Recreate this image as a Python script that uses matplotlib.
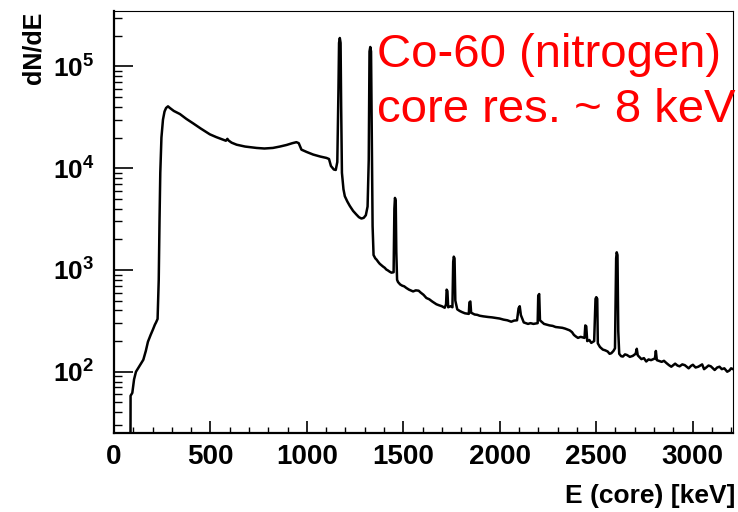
import math
import matplotlib
matplotlib.use("Agg")
import matplotlib.pyplot as plt
from matplotlib.ticker import FixedLocator, FuncFormatter, LogLocator, NullFormatter, MultipleLocator

plt.rcParams["font.family"] = ["Liberation Sans", "DejaVu Sans"]
plt.rcParams["mathtext.fontset"] = "custom"
plt.rcParams["mathtext.rm"] = "Liberation Sans:bold"
plt.rcParams["mathtext.bf"] = "Liberation Sans:bold"

# spectrum: energy [keV] and counts
energy = [0, 84, 86, 95, 104, 114, 125, 140, 152, 165, 176, 190, 202, 212, 218, 226, 232, 236,
          240, 246, 254, 262, 270, 280, 290, 310, 342, 375, 411, 450, 497, 530, 566, 580, 588, 594,
          610, 636, 680, 739, 780, 824, 860, 895, 925, 946, 958, 972, 1000, 1033, 1070, 1102,
          1115, 1125, 1140, 1150, 1158, 1164, 1167, 1171, 1175, 1178, 1182, 1190, 1197, 1210,
          1223, 1240, 1257, 1270, 1283, 1295, 1306, 1315, 1321, 1325, 1329, 1333, 1336, 1341,
          1346, 1355, 1362, 1370, 1378, 1385, 1395, 1404, 1412, 1420, 1430, 1439, 1450, 1454,
          1457, 1461, 1464, 1468, 1473, 1484, 1495, 1505, 1516, 1530, 1551, 1565, 1580, 1590,
          1605, 1620, 1635, 1650, 1672, 1685, 1700, 1715, 1722, 1725, 1729, 1733, 1745, 1755,
          1759, 1762, 1766, 1770, 1780, 1793, 1805, 1820, 1840, 1843, 1848, 1852, 1870, 1884,
          1896, 1915, 1940, 1960, 1983, 2000, 2020, 2040, 2060, 2075, 2090, 2098, 2104, 2110,
          2125, 2147, 2160, 2175, 2197, 2200, 2205, 2209, 2230, 2245, 2259, 2275, 2290, 2311,
          2325, 2340, 2363, 2375, 2385, 2395, 2406, 2420, 2440, 2444, 2449, 2454, 2465, 2475,
          2490, 2497, 2501, 2506, 2509, 2520, 2535, 2548, 2560, 2570, 2579, 2590, 2598, 2604,
          2607, 2611, 2615, 2620, 2630, 2639, 2650, 2660, 2675, 2690, 2705, 2711, 2716, 2735,
          2748, 2760, 2772, 2785, 2805, 2810, 2815, 2840, 2852, 2864, 2878, 2890, 2910, 2922,
          2933, 2947, 2960, 2980, 2992, 3002, 3016, 3030, 3050, 3060, 3071, 3083, 3095, 3115,
          3128, 3140, 3152, 3165, 3180, 3192, 3200, 3210]
counts = [1, 1, 58, 62, 84, 100, 108, 120, 131, 160, 197, 230, 260, 290, 305, 330, 800, 3000,
          9000, 20000, 30000, 36000, 39000, 40500, 39000, 36500, 34000, 30500, 27500, 24500, 21500,
          20200, 19000, 18600, 19400, 18700, 17800, 17000, 16300, 15800, 15600, 15800, 16300,
          16900, 17600, 18000, 17600, 15200, 14400, 13600, 13000, 12600, 12300, 10500, 9700,
          9600, 11500, 60000, 170000, 190000, 170000, 40000, 9000, 6200, 5300, 4700, 4250, 3800,
          3500, 3300, 3200, 3250, 3450, 4200, 12000, 140000, 155000, 140000, 30000, 2700, 1400,
          1300, 1260, 1200, 1150, 1120, 1080, 1050, 1010, 990, 960, 940, 950, 4000,
          5100, 4800, 1500, 800, 760, 720, 700, 690, 665, 640, 615, 630, 625, 600,
          570, 530, 515, 490, 460, 450, 440, 425, 460, 640, 620, 430, 440, 430,
          1200, 1350, 1300, 500, 410, 395, 385, 375, 370, 480, 490, 380, 365, 362,
          355, 350, 345, 342, 337, 333, 325, 320, 310, 318, 320, 420, 440, 360,
          305, 295, 300, 295, 300, 560, 580, 320, 295, 290, 285, 282, 275, 272,
          270, 265, 255, 245, 230, 222, 215, 220, 215, 285, 280, 200, 205, 192,
          200, 520, 540, 520, 190, 175, 165, 162, 158, 150, 152, 160, 170, 1300,
          1490, 1400, 250, 150, 142, 141, 148, 146, 140, 143, 150, 168, 145, 133,
          136, 126, 132, 130, 135, 160, 130, 125, 128, 122, 116, 112, 120, 115,
          113, 118, 116, 108, 114, 117, 110, 112, 118, 106, 110, 115, 113, 104,
          110, 112, 106, 108, 100, 103, 108, 106]

y_decades = [2, 3, 4, 5]
x_ticks = [0, 500, 1000, 1500, 2000, 2500, 3000]

fig = plt.figure(figsize=(7.38, 5.12), dpi=100)
ax = fig.add_axes([114 / 738, 1 - 433 / 512, 619 / 738, 422 / 512])

ax.plot(energy, counts, color="black", lw=1.8)
ax.set_yscale("log")
ax.set_xlim(0, 3210)
ax.set_ylim(25, 3.5e5)

ax.xaxis.set_major_locator(FixedLocator(x_ticks))
ax.xaxis.set_minor_locator(MultipleLocator(100))
ax.yaxis.set_major_locator(FixedLocator([10.0 ** d for d in y_decades]))
ax.yaxis.set_minor_locator(LogLocator(base=10, subs=range(2, 10)))
ax.yaxis.set_minor_formatter(NullFormatter())
ax.yaxis.set_major_formatter(FuncFormatter(lambda v, p: r"$\mathbf{10^{%d}}$" % round(math.log10(v))))

ax.tick_params(axis="both", which="both", direction="in", top=False, right=False, color="black")
ax.tick_params(axis="x", which="major", length=9, width=1.2, pad=8, labelsize=20)
ax.tick_params(axis="x", which="minor", length=4.5, width=1.0)
ax.tick_params(axis="y", which="major", length=14, width=1.2, pad=14, labelsize=19)
ax.tick_params(axis="y", which="minor", length=6, width=1.0)
for lab in ax.get_xticklabels():
    lab.set_fontweight("bold")

for side in ["left", "bottom"]:
    ax.spines[side].set_linewidth(1.6)
for side in ["top", "right"]:
    ax.spines[side].set_linewidth(0.8)

fig.text(33 / 738, 1 - 12 / 512, "dN/dE", rotation=90, ha="center", va="top",
         fontsize=18, fontweight="bold")
fig.text(735 / 738, 1 - 503 / 512, "E (core) [keV]", ha="right", va="baseline",
         fontsize=19, fontweight="bold")

fig.text(377 / 738, 1 - 67 / 512, "Co-60 (nitrogen)", color="red", fontsize=34, va="baseline")
fig.text(377 / 738, 1 - 122 / 512, "core res. ~ 8 keV", color="red", fontsize=34, va="baseline")

fig.savefig("out.png", dpi=100)
